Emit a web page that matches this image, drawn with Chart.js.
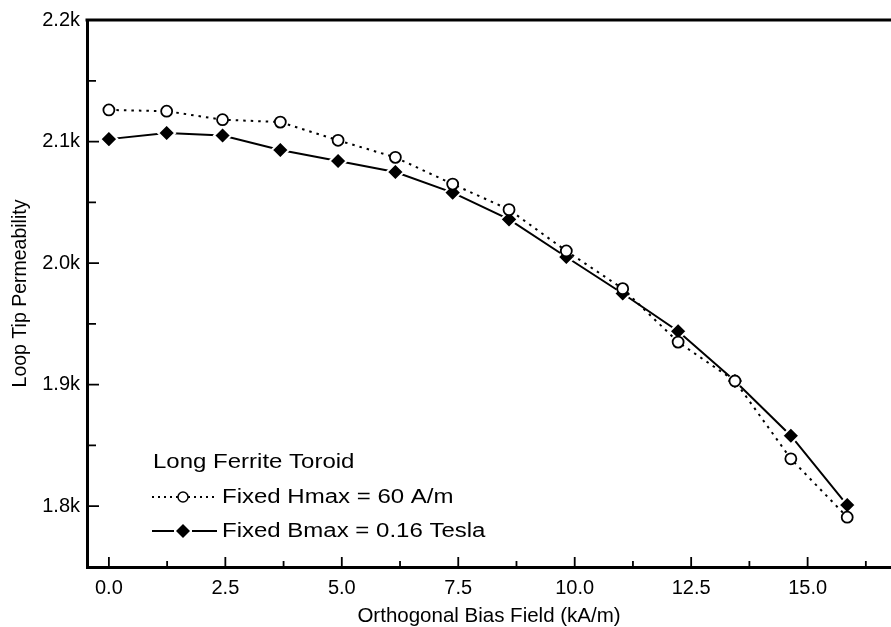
<!DOCTYPE html>
<html>
<head>
<meta charset="utf-8">
<title>Loop Tip Permeability</title>
<script src="https://cdn.jsdelivr.net/npm/chart.js@4.4.1/dist/chart.umd.min.js"></script>
<style>
  html, body { margin: 0; padding: 0; background: #fff; }
  #wrap { width: 891px; height: 627px; }
</style>
</head>
<body>
<div id="wrap"><canvas id="chart" width="891" height="627"></canvas></div>
<script>
// Loop tip permeability of a long ferrite toroid vs orthogonal bias field
const biasField = [0, 1.24, 2.44, 3.68, 4.92, 6.15, 7.38, 8.59, 9.82, 11.03, 12.22, 13.44, 14.64, 15.85];
const fixedHmax = [2126, 2125, 2118, 2116, 2101, 2087, 2065, 2044, 2010, 1979, 1935, 1903, 1839, 1791];
const fixedBmax = [2102, 2107, 2105, 2093, 2084, 2075, 2058, 2036, 2005, 1975, 1944, 1903, 1858, 1801];
const xTicks = [0, 2.5, 5, 7.5, 10, 12.5, 15];
const yTicks = [1800, 1900, 2000, 2100, 2200];
const legendTitle = 'Long Ferrite Toroid';
const seriesNames = ['Fixed Hmax = 60 A/m', 'Fixed Bmax = 0.16 Tesla'];

const FONT = '"Liberation Sans", Arial, Helvetica, sans-serif';
const INK = '#000';

const toPoints = ys => biasField.map((x, i) => ({ x, y: ys[i] }));

function diamond(ctx, x, y, r) {
  ctx.beginPath();
  ctx.moveTo(x - r, y); ctx.lineTo(x, y - r); ctx.lineTo(x + r, y); ctx.lineTo(x, y + r);
  ctx.closePath();
}

// top frame line, inward major/minor ticks and the legend block
const frame = {
  id: 'frame',
  afterDraw(chart) {
    const { ctx, chartArea: a, scales: { x, y } } = chart;
    ctx.save();
    ctx.strokeStyle = INK;
    ctx.lineWidth = 3;
    ctx.beginPath();
    ctx.moveTo(a.left - 1.5, a.top); ctx.lineTo(a.right, a.top);
    ctx.stroke();

    ctx.lineWidth = 1.8;
    ctx.beginPath();
    const xt = (v, len) => { const p = x.getPixelForValue(v); ctx.moveTo(p, a.bottom); ctx.lineTo(p, a.bottom - len); };
    const yt = (v, len) => { const p = y.getPixelForValue(v); ctx.moveTo(a.left, p); ctx.lineTo(a.left + len, p); };
    xTicks.forEach(v => { xt(v, 10); if (v + 1.25 < x.max) xt(v + 1.25, 6); });
    yTicks.forEach(v => { if (v < y.max) yt(v, 12); if (v - 50 > y.min) yt(v - 50, 9); });
    ctx.stroke();

    // legend
    const lx = 152, mx = 183, textX = 222, rows = [462, 497, 531];
    ctx.fillStyle = INK;
    ctx.textBaseline = 'middle';
    ctx.font = `20px ${FONT}`;
    const label = (t, tx, ty) => {
      ctx.save(); ctx.translate(tx, ty); ctx.scale(1.2, 1); ctx.fillText(t, 0, 0); ctx.restore();
    };
    label(legendTitle, 153, rows[0]);

    // dotted sample with open circle
    ctx.lineWidth = 1.8;
    ctx.setLineDash([2, 4]);
    ctx.beginPath(); ctx.moveTo(lx, rows[1]); ctx.lineTo(lx + 62, rows[1]); ctx.stroke();
    ctx.setLineDash([]);
    ctx.fillStyle = '#fff';
    ctx.lineWidth = 1.5;
    ctx.beginPath(); ctx.arc(mx, rows[1], 5, 0, Math.PI * 2); ctx.fill(); ctx.stroke();

    // solid sample with filled diamond
    ctx.lineWidth = 2.2;
    ctx.beginPath();
    ctx.moveTo(lx, rows[2]); ctx.lineTo(mx - 9, rows[2]);
    ctx.moveTo(mx + 9, rows[2]); ctx.lineTo(lx + 65, rows[2]);
    ctx.stroke();
    ctx.fillStyle = INK;
    diamond(ctx, mx, rows[2], 7); ctx.fill();

    label(seriesNames[0], textX, rows[1]);
    label(seriesNames[1], textX, rows[2]);
    ctx.restore();
  }
};

new Chart(document.getElementById('chart'), {
  type: 'scatter',
  data: {
    datasets: [
      {
        label: seriesNames[0],
        data: toPoints(fixedHmax),
        showLine: true,
        tension: 0,
        borderColor: INK,
        borderWidth: 2,
        borderDash: [2.5, 5],
        pointStyle: 'circle',
        pointRadius: 5.5,
        pointBackgroundColor: '#fff',
        pointBorderColor: INK,
        pointBorderWidth: 1.8
      },
      {
        label: seriesNames[1],
        data: toPoints(fixedBmax),
        showLine: true,
        tension: 0,
        borderColor: INK,
        borderWidth: 2,
        pointStyle: 'rectRot',
        pointRadius: 8.5,
        pointBackgroundColor: INK,
        pointBorderColor: '#fff',
        pointBorderWidth: 2
      }
    ]
  },
  options: {
    responsive: false,
    animation: false,
    layout: { autoPadding: false, padding: { top: 20, right: 0, left: 0, bottom: 0 } },
    plugins: { legend: { display: false }, tooltip: { enabled: false } },
    scales: {
      x: {
        type: 'linear',
        min: -0.47,
        max: 16.79,
        afterBuildTicks: s => { s.ticks = xTicks.map(v => ({ value: v })); },
        afterFit: s => { s.height = 60; s.paddingLeft = 0; s.paddingRight = 0; },
        grid: { display: false, drawTicks: false },
        border: { display: true, color: INK, width: 3 },
        ticks: {
          color: INK, padding: 9, maxRotation: 0, autoSkip: false,
          font: { family: FONT, size: 20 },
          callback: v => v.toFixed(1)
        },
        title: {
          display: true, text: 'Orthogonal Bias Field (kA/m)', color: INK,
          font: { family: FONT, size: 20.5 }, padding: { top: 0, bottom: -2 }
        }
      },
      y: {
        type: 'linear',
        min: 1750,
        max: 2200,
        afterBuildTicks: s => { s.ticks = yTicks.map(v => ({ value: v })); },
        afterFit: s => { s.width = 87; },
        grid: { display: false, drawTicks: false },
        border: { display: true, color: INK, width: 3 },
        ticks: {
          color: INK, padding: 7, autoSkip: false,
          font: { family: FONT, size: 20 },
          callback: v => (v / 1000).toFixed(1) + 'k'
        },
        title: {
          display: true, text: 'Loop Tip Permeability', color: INK,
          font: { family: FONT, size: 19.5 }, padding: { top: 9, bottom: 0 }
        }
      }
    }
  },
  plugins: [frame]
});
</script>
</body>
</html>
